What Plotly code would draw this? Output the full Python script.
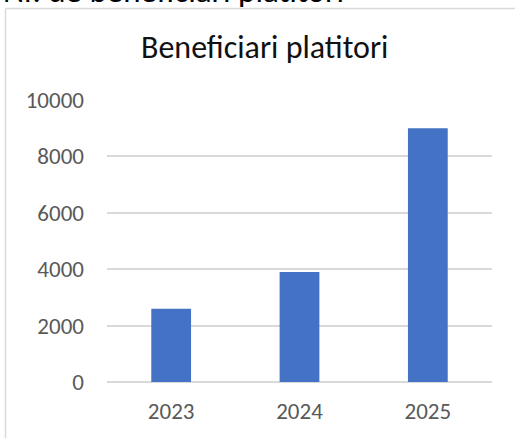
import plotly.graph_objects as go

years = ["2023", "2024", "2025"]
beneficiari = [2600, 3900, 9000]
y_ticks = [0, 2000, 4000, 6000, 8000, 10000]

W, H = 515, 438
L, R, T, B = 107, 492, 100, 382

def px_x(p):
    return (p - L) / (R - L)

def px_y(p):
    return (B - p) / (B - T)

FONT = "Carlito, Calibri, Lato, sans-serif"

fig = go.Figure(
    go.Bar(
        x=years,
        y=beneficiari,
        marker=dict(color="#4472C4", line=dict(width=0)),
    )
)

fig.update_layout(
    width=W,
    height=H,
    margin=dict(l=L, r=W - R, t=T, b=H - B),
    paper_bgcolor="white",
    plot_bgcolor="white",
    bargap=0.69,
    showlegend=False,
    font=dict(family=FONT, color="#595959", size=23),
    xaxis=dict(
        showgrid=False,
        showline=False,
        ticks="",
        tickfont=dict(size=23, color="#595959"),
        ticklabelstandoff=13,
    ),
    yaxis=dict(
        range=[0, 10000],
        tickvals=y_ticks,
        ticktext=[str(v) for v in y_ticks],
        showgrid=True,
        gridcolor="#d9d9d9",
        gridwidth=1.5,
        zeroline=True,
        zerolinecolor="#d9d9d9",
        zerolinewidth=1.5,
        showline=False,
        ticks="",
        tickfont=dict(size=23, color="#595959"),
        ticklabelstandoff=22,
    ),
    shapes=[
        dict(type="line", xref="paper", yref="paper",
             x0=px_x(5.5), x1=px_x(520), y0=px_y(8.5), y1=px_y(8.5),
             line=dict(color="#d9d9d9", width=1.5)),
        dict(type="line", xref="paper", yref="paper",
             x0=px_x(5.5), x1=px_x(5.5), y0=px_y(8.5), y1=px_y(445),
             line=dict(color="#d9d9d9", width=1.5)),
    ],
    annotations=[
        dict(text="Beneficiari platitori", xref="paper", yref="paper",
             x=px_x(264), y=px_y(48), xanchor="center", yanchor="middle",
             showarrow=False, font=dict(family=FONT, size=32, color="#111111")),
        dict(text="Nr. de beneficiari platitori", xref="paper", yref="paper",
             x=px_x(1), y=px_y(13), xanchor="left", yanchor="bottom",
             showarrow=False, font=dict(family=FONT, size=33, color="#000000")),
    ],
)

fig.write_html(
    "out.html",
    config={"displayModeBar": False},
    post_script="document.body.style.margin='0';document.body.style.padding='0';",
)
